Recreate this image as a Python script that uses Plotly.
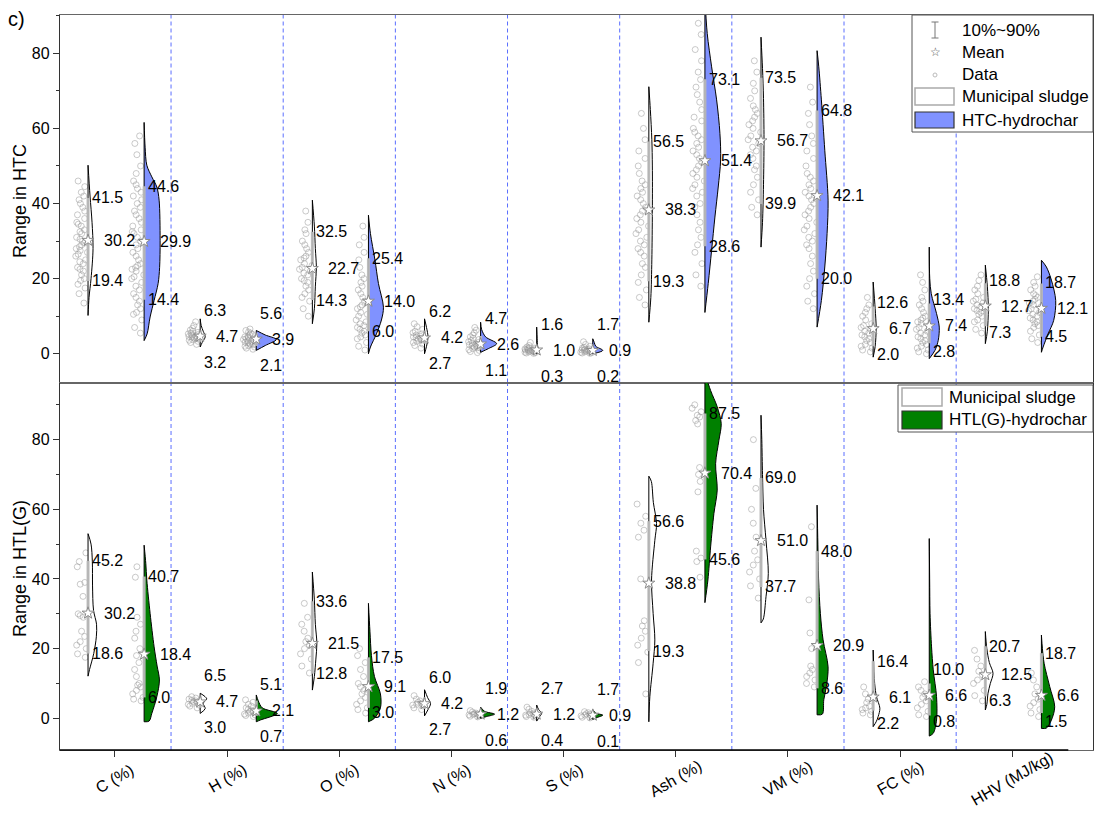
import plotly.graph_objects as go

# ---------------- data ----------------
CATEGORIES = ["C (%)", "H (%)", "O (%)", "N (%)", "S (%)", "Ash (%)", "VM (%)", "FC (%)", "HHV (MJ/kg)"]

# summary statistics (90th percentile, mean, 10th percentile)
HTC_SLUDGE_P90 = [41.5, 6.3, 32.5, 6.2, 1.6, 56.5, 73.5, 12.6, 18.8]
HTC_SLUDGE_MEAN = [30.2, 4.7, 22.7, 4.2, 1.0, 38.3, 56.7, 6.7, 12.7]
HTC_SLUDGE_P10 = [19.4, 3.2, 14.3, 2.7, 0.3, 19.3, 39.9, 2.0, 7.3]
HTC_CHAR_P90 = [44.6, 5.6, 25.4, 4.7, 1.7, 73.1, 64.8, 13.4, 18.7]
HTC_CHAR_MEAN = [29.9, 3.9, 14.0, 2.6, 0.9, 51.4, 42.1, 7.4, 12.1]
HTC_CHAR_P10 = [14.4, 2.1, 6.0, 1.1, 0.2, 28.6, 20.0, 2.8, 4.5]

HTL_SLUDGE_P90 = [45.2, 6.5, 33.6, 6.0, 2.7, 56.6, 69.0, 16.4, 20.7]
HTL_SLUDGE_MEAN = [30.2, 4.7, 21.5, 4.2, 1.2, 38.8, 51.0, 6.1, 12.5]
HTL_SLUDGE_P10 = [18.6, 3.0, 12.8, 2.7, 0.4, 19.3, 37.7, 2.2, 6.3]
HTL_CHAR_P90 = [40.7, 5.1, 17.5, 1.9, 1.7, 87.5, 48.0, 10.0, 18.7]
HTL_CHAR_MEAN = [18.4, 2.1, 9.1, 1.2, 0.9, 70.4, 20.9, 6.6, 6.6]
HTL_CHAR_P10 = [6.0, 0.7, 3.0, 0.6, 0.1, 45.6, 8.6, 0.8, 1.5]

# density profiles: (value, relative density)
HTC_SLUDGE_KDE = [
    [(10.2, 0), (15, 1), (20, 3), (28, 5), (35, 4), (42, 2), (50.2, 0)],
    [(1.8, 0), (3, 2), (4.5, 5), (6, 3), (7.5, 1), (9.3, 0)],
    [(8, 0), (12, 2), (18, 3), (23, 4), (28, 3), (34, 2), (40.9, 0)],
    [(0, 0), (2, 2), (4.4, 3.5), (7, 2), (9.3, 0)],
    [(0, 0), (0.8, 2.5), (2, 1), (4, 0.5), (7.1, 0)],
    [(8.4, 0), (15, 2), (25, 3), (38, 3.5), (50, 3.5), (57, 3), (65, 1.5), (71.1, 0)],
    [(28.4, 0), (35, 1.5), (45, 2.5), (57, 3), (68, 2.5), (76, 1.5), (84.3, 0)],
    [(-0.9, 0), (2, 2), (6.7, 3), (12, 2), (19.1, 0)],
    [(2.7, 0), (6, 2), (12, 3), (18, 2), (23.6, 0)],
]
HTC_CHAR_KDE = [
    [(3.5, 0), (5.3, 3), (9.8, 6), (14.2, 10), (18.7, 14), (23, 15.5), (30.2, 16), (40.9, 15),
     (44.4, 12.7), (47.1, 7.7), (50.2, 2.7), (55, 1), (61.6, 0)],
    [(0.9, 0), (2.2, 9), (3.8, 20), (5, 9), (6.2, 0)],
    [(0, 0), (1.8, 2), (5.3, 8), (9, 13), (12.4, 15), (18.7, 10), (25, 6.5), (32, 2), (36.9, 0)],
    [(0.4, 0), (1.4, 8), (2.7, 16), (4.5, 5), (6.5, 1), (8.4, 0)],
    [(0, 0), (0.9, 10), (2, 3), (3, 1.5), (4, 0)],
    [(11, 0), (18.7, 3.3), (27.6, 6.7), (36.4, 10), (44.4, 13.3), (51.6, 15.7), (58.7, 15),
     (67.6, 11.7), (76.4, 6.7), (85.3, 2.3), (95, 0)],
    [(7.1, 0), (14.2, 4.3), (23.1, 7.7), (32, 10), (40.9, 11), (54.2, 7.7), (67.6, 4.3), (76.4, 1.7), (80.7, 0)],
    [(-1.3, 0), (0.9, 5.7), (3.6, 9), (7.1, 10), (10.7, 7.3), (16, 2), (20, 0.5), (28.4, 0)],
    [(0.4, 0), (1.8, 1.7), (5.3, 6.7), (8.9, 12.3), (14.2, 14.3), (19.6, 10), (23.1, 5), (24.9, 0)],
]
HTL_SLUDGE_KDE = [
    [(12.1, 0), (14, 1.5), (18.6, 5.7), (23.4, 8.3), (27, 8.5), (31, 5.5), (38, 4.5), (45, 4.3), (50, 3), (53, 0)],
    [(1.4, 0), (2.8, 5), (4.3, 3), (5.6, 6.5), (7.2, 0)],
    [(8.1, 0), (12, 2), (17, 3.5), (21.5, 4.5), (27, 3), (34, 2), (42, 0)],
    [(0.7, 0), (2.5, 3.5), (4.2, 6), (6, 3), (8.2, 0)],
    [(-0.8, 0), (0.5, 3), (1.5, 5), (2.5, 2), (3.8, 0)],
    [(-1, 0), (6.2, 1), (15.8, 4.3), (22.5, 6), (30.1, 4.3), (39.7, 2.7), (51.1, 6), (55.9, 7.7),
     (62, 4.5), (68, 2.5), (69.5, 0)],
    [(27.4, 0), (28.5, 2.3), (34.9, 5), (41.6, 7.3), (51.1, 5), (60, 2.5), (70, 1.5), (80, 0.8), (87, 0)],
    [(-2.4, 0), (-1, 3), (0.5, 5), (2.9, 6.7), (6.2, 3.3), (10, 1.5), (19.6, 0)],
    [(2.4, 0), (4, 1.5), (7.2, 2.7), (10, 5), (12.9, 7.7), (16, 4), (20, 1.5), (24.9, 0)],
]
HTL_CHAR_KDE = [
    [(-1, 0), (-0.8, 5), (1.4, 7.7), (6.2, 12.7), (11, 15.3), (15, 13), (20.5, 10), (30.1, 6),
     (39.7, 2.7), (44.4, 1.7), (49.7, 0)],
    [(-1, 0), (-0.5, 4), (1.4, 21), (3, 6), (5, 2), (6.7, 0)],
    [(-1, 0), (0, 6), (3, 12), (7, 12), (12, 6), (18, 3), (25, 1.5), (33, 0)],
    [(0, 0), (0.5, 6), (1.2, 14), (2, 4), (3.2, 0)],
    [(-0.3, 0), (0.3, 5), (0.9, 10), (1.5, 3), (2.5, 0)],
    [(33.2, 0), (39.7, 3), (49.2, 5.7), (58.8, 9), (65.5, 12.3), (73.1, 10.7), (79.8, 14),
     (84.6, 16.3), (89.4, 12.3), (94.1, 5.7), (99, 0)],
    [(1, 0), (1.2, 5.3), (5.3, 6.7), (9.1, 9.3), (14.8, 11), (22.5, 6), (30.1, 3.3), (40, 1.5), (50, 0.8), (61.2, 0)],
    [(-5.1, 0), (-4.3, 4), (-0.5, 7.3), (6.2, 7.3), (13.9, 4), (20.5, 2.3), (30, 0.8), (40, 0.4), (51.6, 0)],
    [(-2.9, 0), (-2.8, 5), (-0.5, 10), (3.3, 13.3), (9.1, 8.3), (15.8, 2.7), (20, 1), (23.9, 0)],
]

# individual data points
HTC_SLUDGE_POINTS = [
    [13.5, 16, 17.5, 18.5, 19.5, 20, 21, 22, 22.5, 23, 24, 24.5, 25, 26, 26.5, 27, 27.5, 28, 28.5, 29,
     29.5, 30, 30.5, 31, 32, 32.5, 33, 34, 34.5, 35, 36, 37, 38, 39, 40, 41, 42, 43, 44.5, 46],
    [2.5, 3, 3.3, 3.6, 3.8, 4, 4.2, 4.4, 4.5, 4.6, 4.8, 5, 5.1, 5.3, 5.5, 5.7, 6, 6.3, 6.8, 7.5, 8.5],
    [10, 12, 14, 15, 16, 17, 18, 19, 19.5, 20, 21, 21.5, 22, 22.5, 23, 23.5, 24, 25, 25.5, 26, 27, 28,
     29, 30, 32, 33, 35, 38],
    [1.5, 2.2, 2.6, 3, 3.3, 3.6, 3.9, 4.1, 4.3, 4.5, 4.7, 5, 5.3, 5.6, 6, 6.5, 7.2, 8],
    [0.1, 0.2, 0.3, 0.4, 0.5, 0.6, 0.7, 0.8, 0.9, 1.0, 1.0, 1.1, 1.2, 1.3, 1.4, 1.5, 1.6, 1.8, 2.2, 3],
    [13, 15, 17, 19, 21, 23, 24, 26, 27, 28, 29, 30, 31, 32, 33, 34, 35, 36, 37, 38, 39, 40, 41, 42,
     43, 44, 45, 46, 48, 50, 52, 54, 57, 60, 64],
    [37, 39, 41, 43, 45, 47, 49, 50, 52, 53, 54, 55, 56, 57, 58, 59, 60, 61, 62, 63, 64, 65, 66, 68,
     70, 72, 75, 78],
    [0.5, 1, 1.5, 2, 2.5, 3, 3.5, 4, 4.5, 5, 5.5, 6, 6.5, 7, 7.5, 8, 9, 10, 11, 12, 13, 15],
    [5.5, 6.5, 7.5, 8.5, 9, 10, 10.5, 11, 11.5, 12, 12.5, 13, 13.5, 14, 14.5, 15, 16, 17, 18, 19.5, 21],
]
HTC_CHAR_POINTS = [
    [5.5, 7, 9, 10.5, 11, 12, 13, 14, 15, 16, 17, 18, 19, 20, 20.5, 21, 22, 22.5, 23, 23.5, 24, 25, 26,
     27, 28, 29, 30, 31, 32, 32.5, 33, 34, 35, 36, 37, 38, 39, 40, 41, 42, 43, 44, 45, 46, 48, 50, 53,
     56, 58],
    [1.2, 1.5, 1.8, 2, 2.2, 2.4, 2.6, 2.8, 3, 3.1, 3.3, 3.5, 3.6, 3.8, 4, 4.1, 4.3, 4.5, 4.7, 5, 5.2,
     5.5, 5.8, 6.2, 6.6],
    [1, 2, 3, 4, 4.5, 5, 5.5, 6, 6.5, 7, 7.5, 8, 8.5, 9, 10, 10.5, 11, 12, 12.5, 13, 14, 15, 16, 17,
     18, 19, 20, 21, 23, 25, 27, 29, 31, 34],
    [0.3, 0.6, 0.9, 1.1, 1.4, 1.6, 1.8, 2, 2.2, 2.4, 2.6, 2.8, 3, 3.2, 3.5, 3.8, 4.1, 4.5, 5, 5.6,
     6.3, 7],
    [0.1, 0.2, 0.3, 0.4, 0.5, 0.6, 0.7, 0.8, 0.9, 1.0, 1.1, 1.2, 1.3, 1.5, 1.7, 2, 2.5, 3.2],
    [18, 21, 24, 27, 29, 31, 33, 35, 37, 39, 40, 42, 43, 44, 45, 46, 47, 48, 49, 50, 51, 52, 53, 54,
     55, 56, 57, 58, 59, 60, 62, 63, 65, 67, 69, 71, 73, 75, 78, 81, 85, 88],
    [12, 14, 16, 18, 20, 22, 24, 26, 28, 29, 30, 31, 32, 33, 34, 35, 36, 37, 38, 39, 40, 41, 42, 43,
     44, 45, 46, 47, 48, 50, 52, 54, 56, 58, 61, 64, 67, 71],
    [0, 0.5, 1, 1.5, 2, 2.5, 3, 3.5, 4, 4.5, 5, 5.5, 6, 6.5, 7, 7.5, 8, 8.5, 9, 9.5, 10, 11, 12, 13,
     14, 15, 17, 19, 21],
    [3, 4, 5, 6, 7, 7.5, 8, 8.5, 9, 9.5, 10, 10.5, 11, 11.5, 12, 12.5, 13, 13.5, 14, 14.5, 15, 15.5,
     16, 17, 18, 19, 20.5],
]
HTL_SLUDGE_POINTS = [
    [17.5, 18.5, 20, 21, 22, 23.5, 25, 29, 29.5, 30, 35, 38.5, 39, 43.5, 45, 47.5],
    [3, 3.5, 3.8, 4, 4.3, 4.6, 4.8, 5, 5.2, 5.5, 5.8, 6.2],
    [13, 15, 17, 18.5, 20, 21, 22, 23, 25, 27, 29, 33],
    [2.5, 3, 3.5, 3.8, 4, 4.3, 4.6, 5, 5.5, 6.5],
    [0.3, 0.5, 0.7, 0.9, 1.1, 1.3, 1.6, 2, 2.6, 3.2],
    [7, 16, 19, 21, 23, 25, 26.5, 28, 40, 52, 54, 56, 58, 61.5],
    [34.5, 38, 40, 42, 44, 45.5, 48, 52, 56, 60, 66, 80],
    [1, 1.5, 2, 2.5, 3, 3.5, 4.5, 5.5, 7, 9],
    [5, 6.5, 8, 10, 11, 12.5, 13.5, 15, 17, 19.5],
]
HTL_CHAR_POINTS = [
    [5, 5.5, 6, 7, 8, 9, 9.5, 10, 12, 14, 16, 18, 20, 23, 25, 27, 29, 40.5, 43.5],
    [0.5, 0.8, 1, 1.2, 1.5, 1.8, 2, 2.3, 2.6, 3, 3.5, 4, 4.6, 5.3],
    [1.5, 2.5, 3, 4, 5, 6, 7, 8, 9, 10, 12, 14, 16, 18, 20],
    [0.4, 0.6, 0.8, 1, 1.1, 1.2, 1.3, 1.5, 1.8, 2.2],
    [0.1, 0.3, 0.5, 0.7, 0.9, 1.1, 1.3, 1.6, 1.9],
    [40.5, 45, 46, 48, 65, 68, 70, 72, 84.5, 85.5, 86.5, 87, 88, 89, 90],
    [9, 10, 11, 12, 13, 14, 15, 20, 24.5, 34, 55],
    [0.5, 1, 2, 3, 4, 5, 6, 7, 8, 9, 10.5],
    [0.5, 1.5, 2.5, 3.5, 4.5, 5.5, 7, 9, 11, 13],
]

# ---------------- style / layout constants ----------------
FONT = "Liberation Sans, Arial, sans-serif"
W, H = 1099, 814
PL, PR, PT, PB = 60, 1093, 15, 750
X_RANGE = [-0.49, 8.72]
PX_PER_X = (PR - PL) / (X_RANGE[1] - X_RANGE[0])
SLUDGE_OFF, CHAR_OFF = -0.24, 0.26
BLUE = "rgb(128,146,255)"
GREEN = "rgb(0,128,0)"
POINT_COLOR = "rgba(150,150,150,0.5)"
DIV_COLOR = "rgb(90,110,255)"
AXC = "#333333"
FRAME = "#666666"


def pxx(p):
    return (p - PL) / (PR - PL)


def pxy(p):
    return (PB - p) / (PB - PT)


panels = [
    dict(xa="x", ya="y", yr=[-7.65, 90.2],
         groups=[(SLUDGE_OFF, "white", HTC_SLUDGE_KDE, HTC_SLUDGE_POINTS, HTC_SLUDGE_P90, HTC_SLUDGE_MEAN, HTC_SLUDGE_P10),
                 (CHAR_OFF, BLUE, HTC_CHAR_KDE, HTC_CHAR_POINTS, HTC_CHAR_P90, HTC_CHAR_MEAN, HTC_CHAR_P10)]),
    dict(xa="x2", ya="y2", yr=[-9.1, 96.4],
         groups=[(SLUDGE_OFF, "white", HTL_SLUDGE_KDE, HTL_SLUDGE_POINTS, HTL_SLUDGE_P90, HTL_SLUDGE_MEAN, HTL_SLUDGE_P10),
                 (CHAR_OFF, GREEN, HTL_CHAR_KDE, HTL_CHAR_POINTS, HTL_CHAR_P90, HTL_CHAR_MEAN, HTL_CHAR_P10)]),
]

fig = go.Figure()
annotations = []
shapes = []

for pan in panels:
    xa, ya = pan["xa"], pan["ya"]
    ppu = (PB - PT) / 2 / (pan["yr"][1] - pan["yr"][0])
    gap = 26 / ppu
    # violin bodies
    for off, color, kde, pts, p90, mean, p10 in pan["groups"]:
        for i in range(len(CATEGORIES)):
            axis = i + off
            ys = [p[0] for p in kde[i]]
            ds = [p[1] for p in kde[i]]
            fig.add_trace(go.Scatter(x=[axis, axis], y=[ys[0], ys[-1]], mode="lines",
                                     line=dict(color="black", width=1), xaxis=xa, yaxis=ya,
                                     showlegend=False, hoverinfo="skip"))
            fig.add_trace(go.Scatter(x=[axis + d / PX_PER_X for d in ds], y=ys, mode="lines",
                                     line=dict(color="black", width=1, shape="spline", smoothing=0.9),
                                     fill="tonextx", fillcolor=color, xaxis=xa, yaxis=ya,
                                     showlegend=False, hoverinfo="skip"))
    # points
    for off, color, kde, pts, p90, mean, p10 in pan["groups"]:
        for i in range(len(CATEGORIES)):
            axis = i + off
            fig.add_trace(go.Box(y=pts[i], x0=axis, width=0.16, boxpoints="all", jitter=0.75, pointpos=-0.7,
                                 marker=dict(symbol="circle-open", size=6, color=POINT_COLOR,
                                             line=dict(width=1)),
                                 line=dict(color="rgba(0,0,0,0)", width=0.1), fillcolor="rgba(0,0,0,0)",
                                 whiskerwidth=0, xaxis=xa, yaxis=ya, showlegend=False, hoverinfo="skip"))
    # 10-90 bars, means, labels
    for off, color, kde, pts, p90, mean, p10 in pan["groups"]:
        bx, by = [], []
        mx = []
        for i in range(len(CATEGORIES)):
            axis = i + off
            bx += [axis, axis, None]
            by += [p10[i], p90[i], None]
            mx.append(axis)
            hi = max(p90[i], mean[i] + gap)
            lo = min(p10[i], mean[i] - gap)
            for val, yy, sh in [(p90[i], hi, 2), (mean[i], mean[i], 14), (p10[i], lo, 2)]:
                annotations.append(dict(x=axis, y=yy, xref=xa, yref=ya, text=f"{val:.1f}",
                                        showarrow=False, xanchor="left", yanchor="middle", xshift=sh,
                                        font=dict(size=16, family=FONT, color="black")))
        fig.add_trace(go.Scatter(x=bx, y=by, mode="lines", line=dict(color="rgba(185,185,185,0.95)", width=3),
                                 xaxis=xa, yaxis=ya, showlegend=False, hoverinfo="skip"))
        fig.add_trace(go.Scatter(x=mx, y=mean, mode="markers",
                                 marker=dict(symbol="star", size=9, color="white",
                                             line=dict(color="#8a8a8a", width=1)),
                                 xaxis=xa, yaxis=ya, showlegend=False, hoverinfo="skip"))
    # dividers
    for i in range(len(CATEGORIES) - 1):
        shapes.append(dict(type="line", xref=xa, yref=ya + " domain", x0=i + 0.5, x1=i + 0.5, y0=0, y1=1,
                           line=dict(color=DIV_COLOR, width=1, dash="4px,3px"), layer="below"))

# x tick labels (rotated, centred on ticks)
for i, c in enumerate(CATEGORIES):
    annotations.append(dict(x=i, y=0, xref="x2", yref="paper", yshift=-28, text=c, textangle=-30,
                            showarrow=False, xanchor="center", yanchor="middle",
                            font=dict(size=16, family=FONT, color="black")))

# y titles and panel tag
annotations.append(dict(x=pxx(20), y=pxy(201), xref="paper", yref="paper", text="Range in HTC", textangle=-90,
                        showarrow=False, xanchor="center", yanchor="middle", font=dict(size=18, family=FONT)))
annotations.append(dict(x=pxx(20), y=pxy(569), xref="paper", yref="paper", text="Range in HTL(G)", textangle=-90,
                        showarrow=False, xanchor="center", yanchor="middle", font=dict(size=18, family=FONT)))
annotations.append(dict(x=pxx(6), y=pxy(19), xref="paper", yref="paper", text="c)",
                        showarrow=False, xanchor="left", yanchor="middle", font=dict(size=20, family=FONT)))

# ---------------- manual legends ----------------
def prect(x0, y0, x1, y1, fill, line, lw=1):
    return dict(type="rect", xref="paper", yref="paper", x0=pxx(x0), x1=pxx(x1), y0=pxy(y1), y1=pxy(y0),
                fillcolor=fill, line=dict(color=line, width=lw))


def pline(x0, y0, x1, y1, color, lw=1):
    return dict(type="line", xref="paper", yref="paper", x0=pxx(x0), x1=pxx(x1), y0=pxy(y0), y1=pxy(y1),
                line=dict(color=color, width=lw))


def ptext(x, y, t, size=17, color="black", anchor="left"):
    return dict(x=pxx(x), y=pxy(y), xref="paper", yref="paper", text=t, showarrow=False,
                xanchor=anchor, yanchor="middle", font=dict(size=size, family=FONT, color=color))


# bottom axis drawn black up to the last category boundary
shapes.append(dict(type="line", xref="x2", yref="y2 domain", x0=X_RANGE[0], x1=8.5, y0=0, y1=0,
                   line=dict(color="black", width=1.6)))

shapes.append(prect(912, 15, 1093, 132, "white", "#555555", 1))
shapes.append(pline(935, 22, 935, 38, "#777777", 1))
shapes.append(pline(931.5, 22, 938.5, 22, "#777777", 1))
shapes.append(pline(931.5, 38, 938.5, 38, "#777777", 1))
annotations.append(dict(x=pxx(935), y=pxy(52), xref="paper", yref="paper", text="☆", showarrow=False,
                        xanchor="center", yanchor="middle", font=dict(size=12, family="DejaVu Sans", color="#555555")))
shapes.append(dict(type="circle", xref="paper", yref="paper", x0=pxx(933), x1=pxx(937), y0=pxy(77), y1=pxy(73),
                   line=dict(color="#bbbbbb", width=1)))
shapes.append(prect(915, 88, 954, 105, "white", "#aaaaaa", 1.5))
shapes.append(prect(915, 112, 954, 128, BLUE, "#333333", 1.2))
for y, t in [(30, "10%~90%"), (52, "Mean"), (75, "Data"), (97, "Municipal sludge"), (120, "HTC-hydrochar")]:
    annotations.append(ptext(960, y, t))

shapes.append(prect(898, 385, 1093, 432, "white", "#555555", 1))
shapes.append(prect(902, 388, 942, 406, "white", "#aaaaaa", 1.5))
shapes.append(prect(902, 411, 942, 429, GREEN, "#333333", 1.2))
annotations.append(ptext(947, 397, "Municipal sludge"))
annotations.append(ptext(947, 420, "HTL(G)-hydrochar"))

axis_common = dict(showgrid=False, zeroline=False, showline=True, mirror=True, linewidth=1.3)

fig.update_layout(
    width=W, height=H,
    margin=dict(l=PL, r=W - PR, t=PT, b=H - PB),
    paper_bgcolor="white", plot_bgcolor="white",
    font=dict(family=FONT, size=16, color="black"),
    showlegend=False,
    xaxis=dict(domain=[0, 1], range=X_RANGE, anchor="y", showticklabels=False, ticks="", linecolor=FRAME,
               **axis_common),
    yaxis=dict(domain=[0.5, 1], range=panels[0]["yr"], anchor="x", tick0=0, dtick=20, ticks="outside",
               ticklen=6, tickcolor=AXC, tickfont=dict(size=16, family=FONT), linecolor=AXC,
               minor=dict(dtick=10, tick0=0, ticks="outside", ticklen=3, tickcolor=AXC), **axis_common),
    xaxis2=dict(domain=[0, 1], range=X_RANGE, anchor="y2", tickvals=list(range(len(CATEGORIES))),
                showticklabels=False, ticks="outside", ticklen=6, tickcolor=AXC, linecolor=FRAME, **axis_common),
    yaxis2=dict(domain=[0, 0.5], range=panels[1]["yr"], anchor="x2", tick0=0, dtick=20, ticks="outside",
                ticklen=6, tickcolor=AXC, tickfont=dict(size=16, family=FONT), linecolor=AXC,
                minor=dict(dtick=10, tick0=0, ticks="outside", ticklen=3, tickcolor=AXC), **axis_common),
    shapes=shapes,
    annotations=annotations,
)

fig.write_html("out.html", config={"displayModeBar": False},
               post_script="document.body.style.margin='0px';")
